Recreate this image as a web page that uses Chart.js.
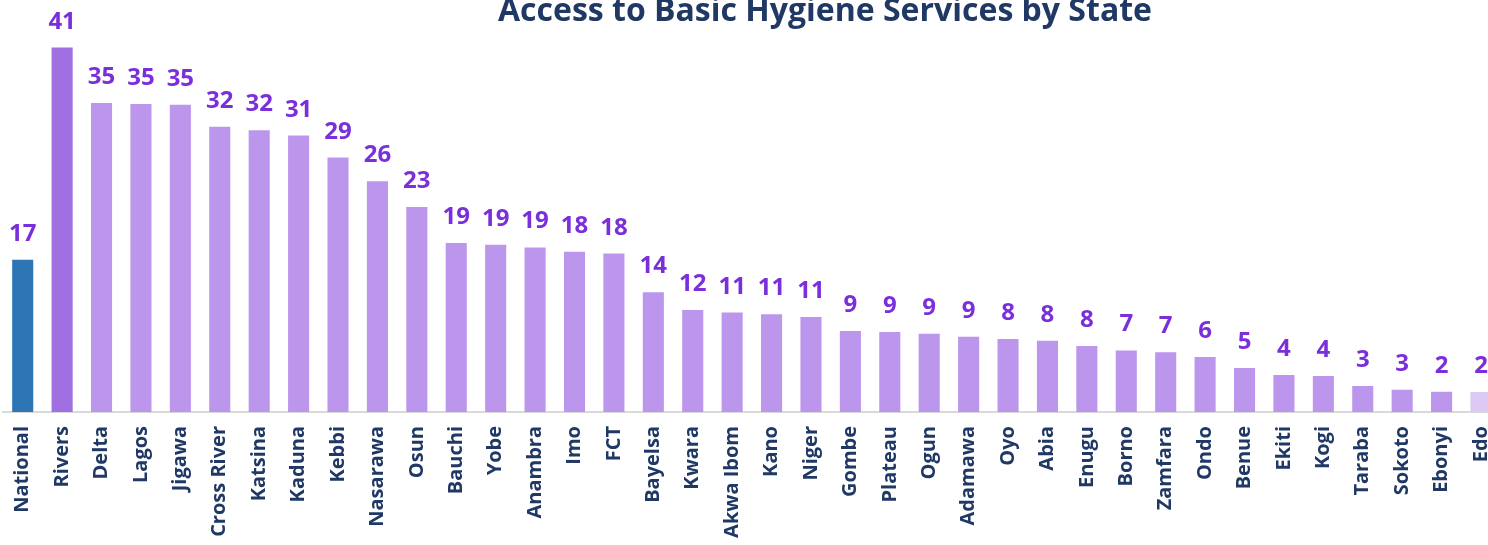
<!DOCTYPE html>
<html>
<head>
<meta charset="utf-8">
<script src="https://cdn.jsdelivr.net/npm/chart.js@4.4.1/dist/chart.umd.min.js"></script>
<style>
  html, body { margin: 0; padding: 0; background: #fff; overflow: hidden; }
  #wrap { position: absolute; left: 0; top: 0; width: 1519px; height: 545px; }
</style>
</head>
<body>
<div id="wrap"><canvas id="chart"></canvas></div>
<script>
// --- DATA ---
const states = ['National', 'Rivers', 'Delta', 'Lagos', 'Jigawa', 'Cross River', 'Katsina', 'Kaduna',
  'Kebbi', 'Nasarawa', 'Osun', 'Bauchi', 'Yobe', 'Anambra', 'Imo', 'FCT', 'Bayelsa', 'Kwara',
  'Akwa Ibom', 'Kano', 'Niger', 'Gombe', 'Plateau', 'Ogun', 'Adamawa', 'Oyo', 'Abia', 'Enugu',
  'Borno', 'Zamfara', 'Ondo', 'Benue', 'Ekiti', 'Kogi', 'Taraba', 'Sokoto', 'Ebonyi', 'Edo'];
const hygiene = [17.3, 41.4, 35.1, 35.0, 34.9, 32.4, 32.0, 31.4,
  28.9, 26.2, 23.3, 19.2, 19.0, 18.7, 18.2, 18.0, 13.6, 11.6,
  11.3, 11.1, 10.8, 9.2, 9.1, 8.9, 8.55, 8.3, 8.1, 7.5,
  7.0, 6.8, 6.25, 5.0, 4.2, 4.1, 2.95, 2.52, 2.3, 2.27];
const titleText = 'Access to Basic Hygiene Services by State';

// bar colours: national highlighted, top state darker, last one pale
const barColors = states.map((s, i) => {
  if (i === 0) return '#2E75B6';
  if (i === 1) return '#A070E3';
  if (i === states.length - 1) return '#DCC9F4';
  return '#BC96EC';
});

// value labels above bars
const valueLabels = {
  id: 'valueLabels',
  afterDatasetsDraw(chart) {
    const ctx = chart.ctx;
    const meta = chart.getDatasetMeta(0);
    ctx.save();
    ctx.font = 'bold 24px "Open Sans"';
    ctx.fillStyle = '#7B2FDB';
    ctx.textAlign = 'center';
    ctx.textBaseline = 'alphabetic';
    meta.data.forEach((bar, i) => {
      ctx.fillText(String(Math.round(hygiene[i])), bar.x, bar.y - 19);
    });
    ctx.restore();
  }
};

// title (centred over the original, wider figure)
const titlePlugin = {
  id: 'titlePlugin',
  afterDraw(chart) {
    const ctx = chart.ctx;
    ctx.save();
    ctx.font = 'bold 32px "Open Sans"';
    ctx.fillStyle = '#1F3864';
    ctx.textAlign = 'center';
    ctx.textBaseline = 'alphabetic';
    ctx.fillText(titleText, 825, 21);
    ctx.restore();
  }
};

new Chart(document.getElementById('chart'), {
  type: 'bar',
  data: {
    labels: states,
    datasets: [{
      data: hygiene,
      backgroundColor: barColors,
      borderWidth: 0,
      barPercentage: 0.535,
      categoryPercentage: 1
    }]
  },
  options: {
    responsive: true,
    maintainAspectRatio: false,
    animation: false,
    layout: { padding: { left: 3, right: 0, top: 0, bottom: 0 } },
    plugins: {
      legend: { display: false },
      tooltip: { enabled: false },
      title: { display: false }
    },
    scales: {
      x: {
        grid: { display: false, drawTicks: false },
        border: { display: true, color: '#D9D9D9', width: 2 },
        ticks: {
          autoSkip: false,
          minRotation: 90,
          maxRotation: 90,
          padding: 14,
          color: '#1F3864',
          font: { family: 'Open Sans', size: 20, weight: 'bold' }
        },
        afterFit: (scale) => { scale.height = 133; }
      },
      y: {
        display: false,
        min: 0,
        max: 46.8
      }
    }
  },
  plugins: [valueLabels, titlePlugin]
});
</script>
</body>
</html>
